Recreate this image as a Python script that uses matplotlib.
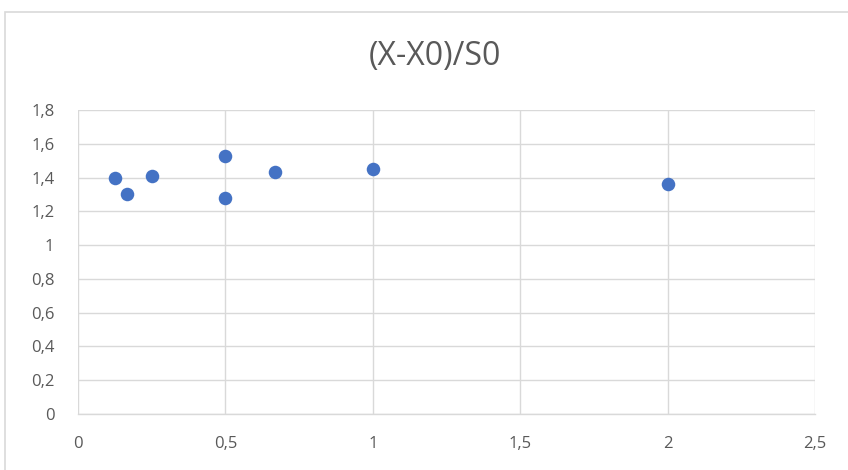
import matplotlib
matplotlib.use("Agg")
import matplotlib.pyplot as plt
from matplotlib.patches import Rectangle
from matplotlib.ticker import FuncFormatter

# Measured ratios
x_values = [0.125, 0.1667, 0.25, 0.5, 0.5, 0.6667, 1.0, 2.0]
y_values = [1.40, 1.30, 1.41, 1.53, 1.28, 1.435, 1.45, 1.36]

x_ticks = [0, 0.5, 1, 1.5, 2, 2.5]
y_ticks = [0, 0.2, 0.4, 0.6, 0.8, 1, 1.2, 1.4, 1.6, 1.8]
title = "(X-X0)/S0"

plt.rcParams['font.family'] = ['Open Sans', 'DejaVu Sans']

fig = plt.figure(figsize=(8.48, 4.70), dpi=100)
fig.patch.set_facecolor("white")

# Chart frame
W, H = 848, 470
fig.patches.append(Rectangle((5 / W, -0.1), 1.2, 1 - 12 / H + 0.1,
                             transform=fig.transFigure, fill=False,
                             edgecolor="#d9d9d9", linewidth=1.2))

ax = fig.add_axes([78 / W, 1 - 414 / H, (815 - 78) / W, (414 - 110) / H])
grid_color = "#d9d9d9"
text_color = "#595959"

ax.scatter(x_values, y_values, s=95, color="#4472C4", zorder=3, linewidths=0)

ax.set_xlim(0, 2.5)
ax.set_ylim(0, 1.8)
ax.set_xticks(x_ticks)
ax.set_yticks(y_ticks)

fmt = FuncFormatter(lambda v, p: (f"{v:g}").replace(".", ","))
ax.xaxis.set_major_formatter(fmt)
ax.yaxis.set_major_formatter(fmt)

ax.grid(True, color=grid_color, linewidth=1.0, zorder=0)
for side in ["top", "right", "left"]:
    ax.spines[side].set_visible(False)
ax.spines["bottom"].set_color(grid_color)
ax.spines["bottom"].set_linewidth(1.0)

ax.tick_params(axis="both", length=0, labelsize=12, labelcolor=text_color)
ax.tick_params(axis="y", pad=17)
ax.tick_params(axis="x", pad=16)

fig.text(435 / W, 1 - 56 / H, title, ha="center", va="center",
         fontsize=23, color=text_color)

fig.savefig("out.png", dpi=100, facecolor="white")
